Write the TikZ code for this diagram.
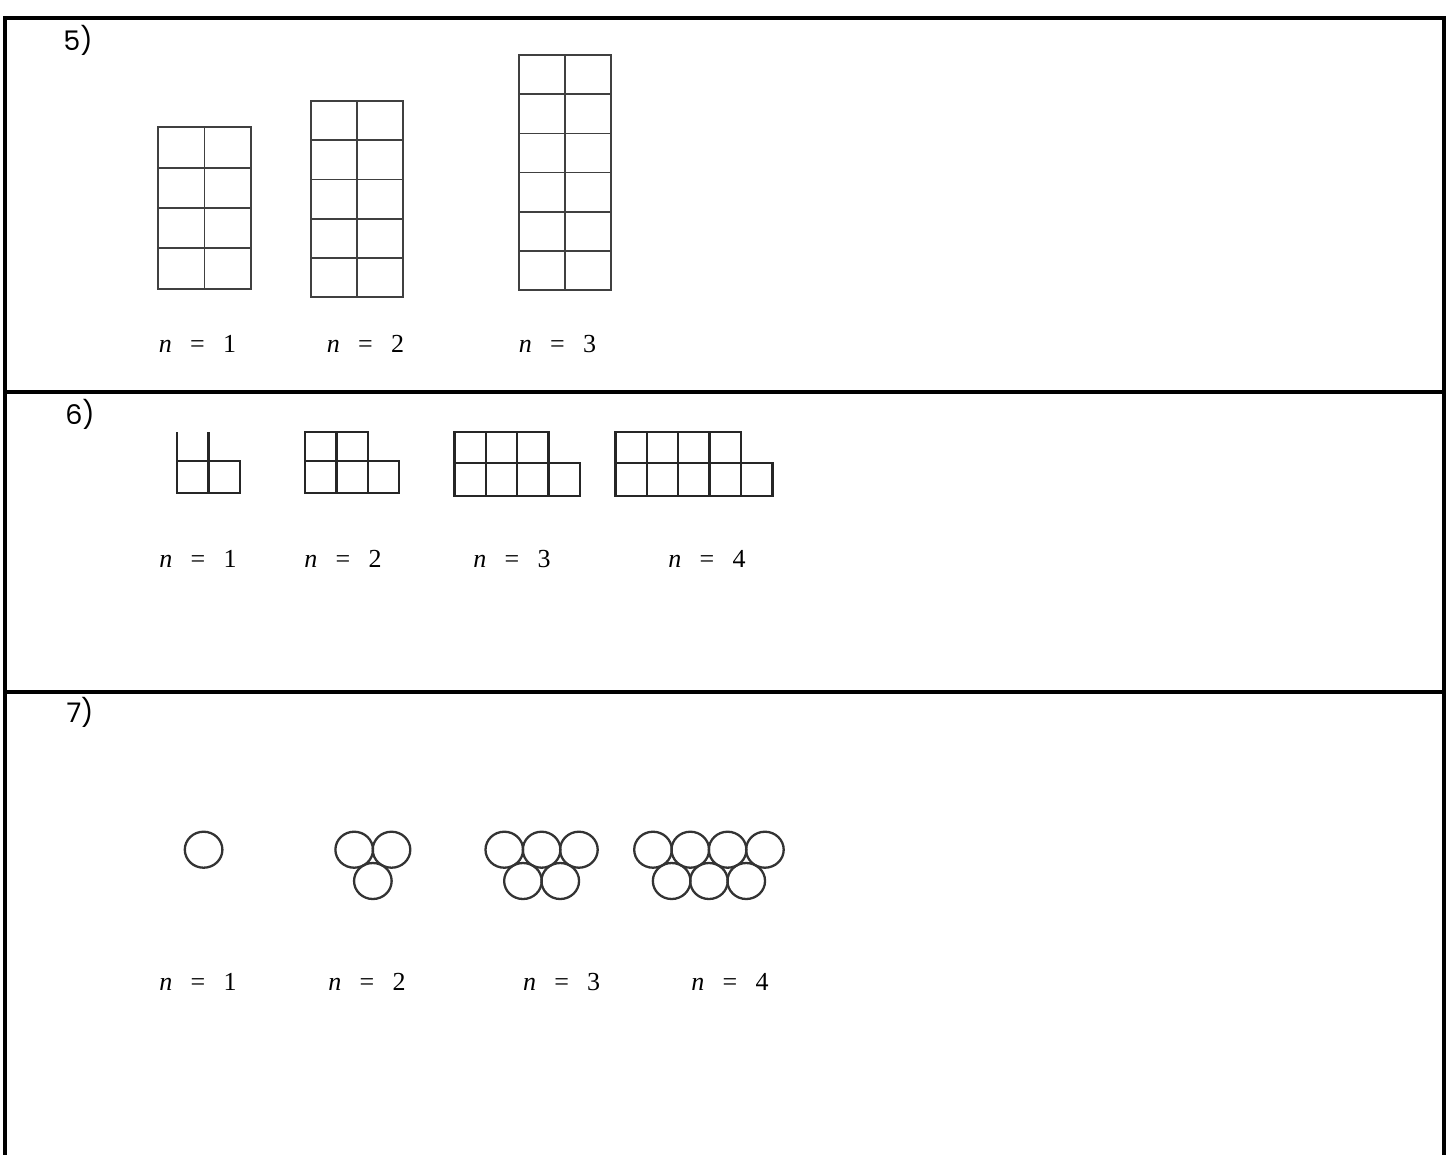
\documentclass[tikz,border=0pt]{standalone}
\usepackage{fontspec}
\newfontfamily\gothic{Poppins}
\newfontfamily\serifnum{Liberation Serif}
\newcommand\nlab[1]{\textit{n}\hspace{0.7em}=\hspace{0.7em}#1}

\tikzset{
    frameline/.style={line width=3.2pt, black},
    cellline/.style={line width=1.6pt, black!75},
    blockline/.style={line width=2.5pt, black!85},
    ringline/.style={line width=2.3pt, black!80},
    numlabel/.style={font=\gothic\fontsize{27}{32}\selectfont, inner sep=0pt},
    nlabel/.style={font=\serifnum\fontsize{26}{30}\selectfont, inner sep=0pt, anchor=base},
}

\begin{document}
\begin{tikzpicture}[x=1pt, y=-1pt]
    \useasboundingbox (0,0) rectangle (1450,1154);

    % table frame
    \draw[frameline] (5,1160) -- (5,18) -- (1444,18) -- (1444,1160);
    \draw[frameline] (5,392) -- (1444,392);
    \draw[frameline] (5,692) -- (1444,692);

    \node[numlabel] (S5) at (78,40) {5)};
    \node[numlabel] (S6) at (80,414) {6)};
    \node[numlabel] (S7) at (80,712) {7)};

    % 5) columns of two cells
    \draw[cellline] (158,127) rectangle (251,289) (204.5,127) -- (204.5,289);
    \foreach \y in {168,208,248}
        \draw[cellline] (158,\y) -- (251,\y);
    \draw[cellline] (311,101) rectangle (403,297) (357,101) -- (357,297);
    \foreach \y in {140,179.3,218.7,258}
        \draw[cellline] (311,\y) -- (403,\y);
    \draw[cellline] (519,55) rectangle (611,290) (565,55) -- (565,290);
    \foreach \y in {94.2,133.3,172.5,211.7,250.8}
        \draw[cellline] (519,\y) -- (611,\y);

    \node[nlabel] (A1) at (197.5,352) {\nlab{1}};
    \node[nlabel] (A2) at (365.5,352) {\nlab{2}};
    \node[nlabel] (A3) at (557.5,352) {\nlab{3}};

    % 6) steps
    \draw[blockline] (177,432) -- (177,493) -- (240,493) -- (240,461) -- (177,461);
    \draw[blockline] (208.5,432) -- (208.5,493);
    \foreach \k/\xa/\ym/\yb in {2/305/461/493, 3/454.4/463/496, 4/615.4/463/496} {
        \draw[blockline] (\xa,\ym) -- (\xa,432) -- ({\xa+\k*31.4},432) -- ({\xa+\k*31.4},\ym);
        \draw[blockline] (\xa,\ym) rectangle ({\xa+(\k+1)*31.4},\yb);
        \foreach \i in {1,...,\k}
            \draw[blockline] ({\xa+\i*31.4},432) -- ({\xa+\i*31.4},\yb);
    }

    \node[nlabel] (B1) at (198,567) {\nlab{1}};
    \node[nlabel] (B2) at (343,567) {\nlab{2}};
    \node[nlabel] (B3) at (512,567) {\nlab{3}};
    \node[nlabel] (B4) at (707,567) {\nlab{4}};

    % 7) rings
    \draw[ringline] (203.6,849.7) circle[x radius=18.8pt, y radius=18pt];
    \foreach \k/\xa in {2/354.2, 3/504.3, 4/653} {
        \foreach \i in {1,...,\k}
            \draw[ringline] ({\xa+(\i-1)*37.3},849.7) circle[x radius=18.8pt, y radius=18pt];
        \foreach \i in {2,...,\k}
            \draw[ringline] ({\xa+(\i-1.5)*37.3},881) circle[x radius=18.8pt, y radius=18pt];
    }

    \node[nlabel] (C1) at (198,990) {\nlab{1}};
    \node[nlabel] (C2) at (367,990) {\nlab{2}};
    \node[nlabel] (C3) at (561.6,990) {\nlab{3}};
    \node[nlabel] (C4) at (730,990) {\nlab{4}};
\end{tikzpicture}
\end{document}
